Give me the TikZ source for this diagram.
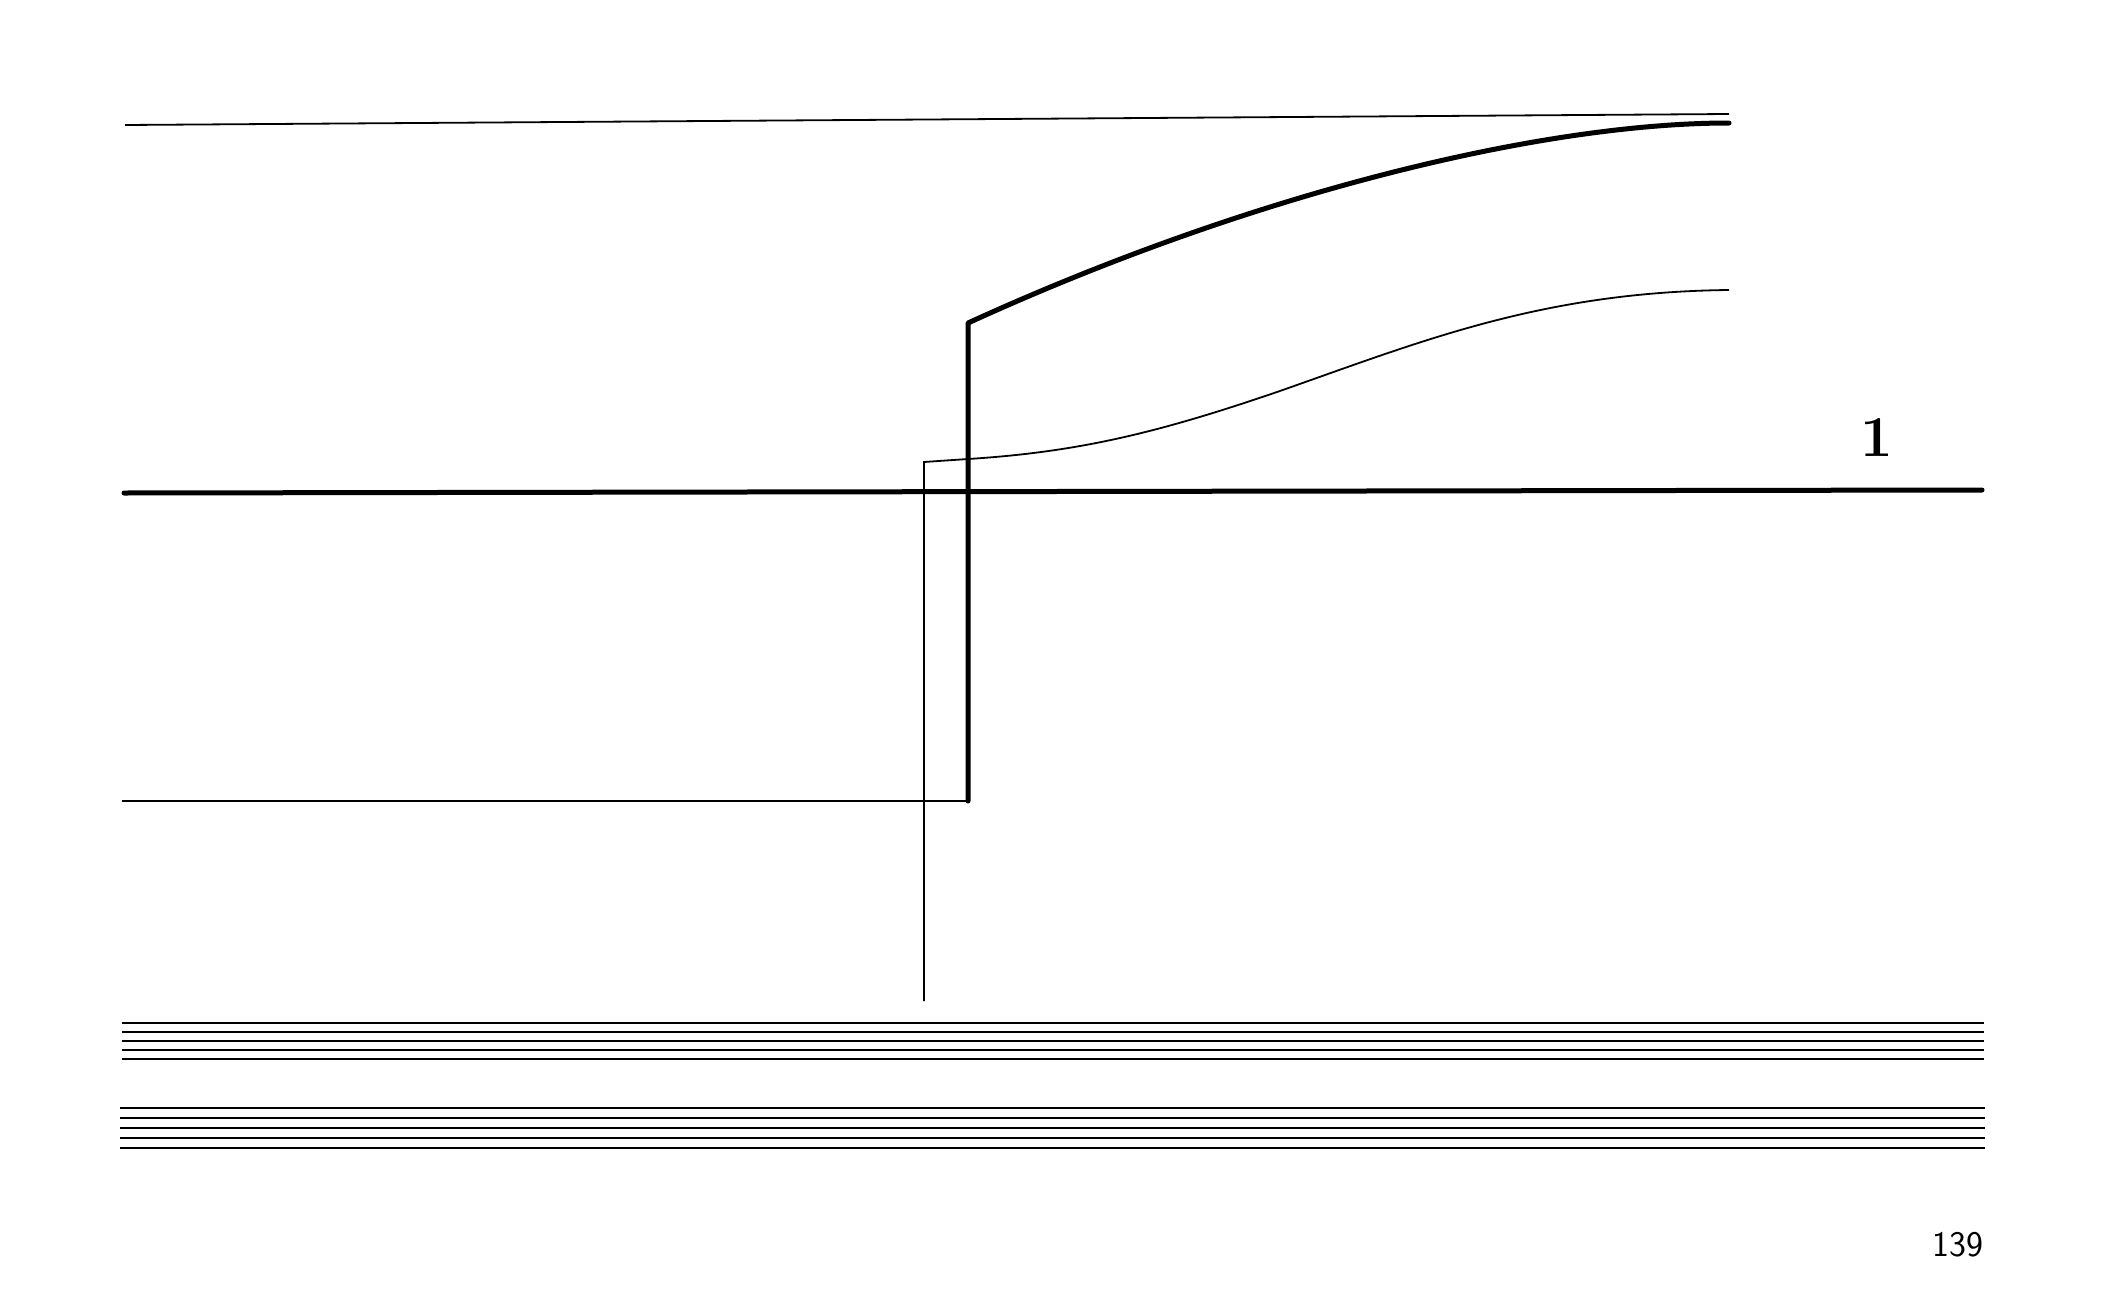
\documentclass[tikz,border=0pt]{standalone}
\begin{document}
\begin{tikzpicture}[x=1pt,y=-1pt,
  thinline/.style={line width=1.8pt},
  thickline/.style={line width=5pt,line cap=round,line join=round},
  staffline/.style={line width=2.2pt}]
\useasboundingbox (0,0) rectangle (2108,1314);
% top thin line
\draw[thinline] (125,125) -- (1729,114);
% thick curve with vertical drop
\draw[thickline] (122,801) ++(846,0) coordinate (tb) -- (968,323) coordinate (tc)
  .. controls (1250,194) and (1540,123) .. (1729,123) coordinate (te);
% bottom thin horizontal
\coordinate (bl) at (122,801);
\draw[thinline] (bl) -- (tb);
% thin curve
\draw[thinline] (924,1001) -- (924,462) -- (968,459)
  .. controls (1080,452) and (1160,432) .. (1277,392)
  .. controls (1420,342) and (1540,292) .. (1729,290);
% thick horizontal
\draw[thickline] (124,493) -- (1982,490);
% staves
\foreach \y in {1023,1032,1041,1050,1059} \draw[staffline] (122,\y) -- (1984,\y);
\foreach \y in {1108,1118,1128,1138,1148} \draw[staffline] (120,\y) -- (1985,\y);
% labels
\node[font=\fontsize{58}{58}\selectfont\bfseries] (one) at (1877,437) {1};
\node[font=\fontsize{36}{36}\selectfont\sffamily] (page) at (1958,1245) {139};
\end{tikzpicture}
\end{document}
